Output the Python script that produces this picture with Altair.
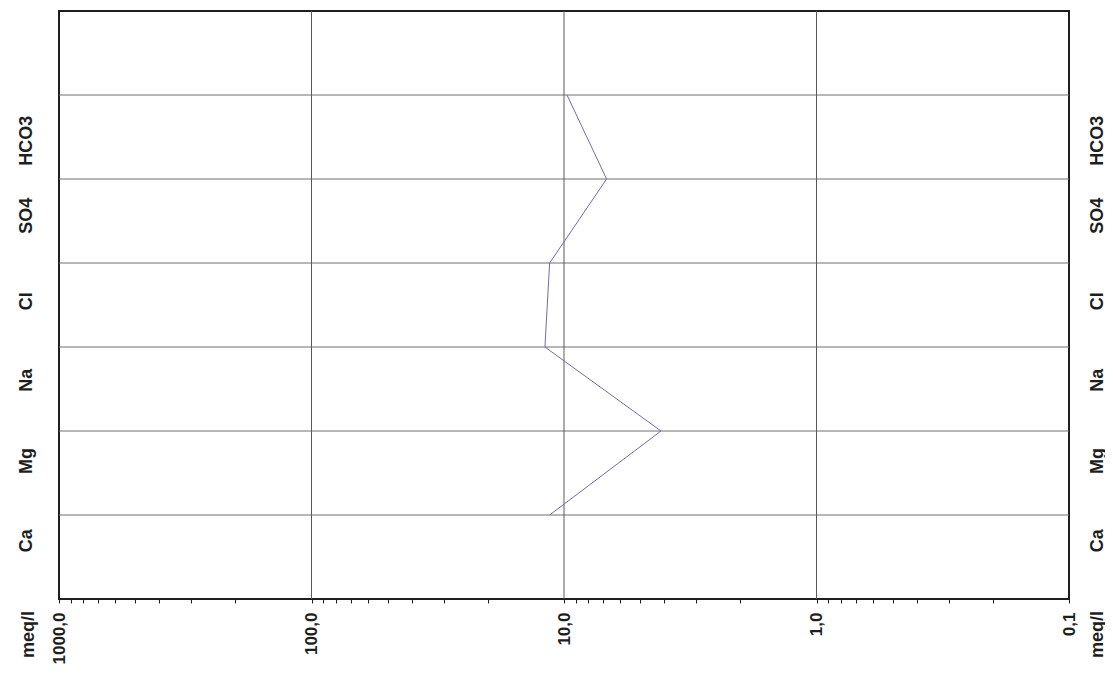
import altair as alt
import pandas as pd

# ---- data ----
ions = ["Ca", "Mg", "Na", "Cl", "SO4", "HCO3"]
meq = [11.4, 4.13, 11.9, 11.4, 6.78, 9.73]
ion_label_pos = [0.70, 1.65, 2.61, 3.55, 4.57, 5.46]
decades = [0.1, 1, 10, 100, 1000]
decade_labels = ["0,1", "1,0", "10,0", "100,0", "1000,0"]
minor_mult = [2, 3, 4, 5, 6, 7, 8, 9]

minor = [round(m * d, 4) for d in [0.1, 1, 10, 100] for m in minor_mult]
positions = list(range(1, len(ions) + 1))

line_df = pd.DataFrame({"ion": ions, "meq": meq, "pos": positions})
hgrid_df = pd.DataFrame({"pos": positions})
vgrid_df = pd.DataFrame({"x": decades[1:-1]})

FONT = "Liberation Sans"
INK = "#1e1e1e"

# label expressions
def ion_expr(pos_list, names):
    expr = "''"
    for p, n in reversed(list(zip(pos_list, names))):
        expr = f"abs(datum.value - {p}) < 0.01 ? '{n}' : ({expr})"
    return expr

def dec_expr(vals, labs):
    expr = "''"
    for v, l in zip(vals, labs):
        expr = f"abs(datum.value - {v}) < {v}*0.001 ? '{l}' : ({expr})"
    return expr

xscale = alt.Scale(type="log", domain=[0.1, 1000], reverse=True, nice=False)
yscale = alt.Scale(domain=[0, 7], nice=False, zero=False)

def yaxis(orient, pad, tx):
    return alt.Axis(
        orient=orient, values=ion_label_pos, labelExpr=ion_expr(ion_label_pos, ions),
        labelAngle=270, labelAlign="center", labelBaseline="middle",
        labelPadding=pad, ticks=False, tickSize=0, domain=False, grid=False,
        labelFont=FONT, labelFontSize=18, labelFontWeight="bold", labelColor=INK,
        labelOverlap=False,
        title="meq/l", titleX=tx, titleY=623, titleAngle=270,
        titleAlign="center", titleBaseline="middle",
        titleFont=FONT, titleFontSize=18, titleFontWeight="bold", titleColor=INK,
    )

xaxis = alt.Axis(
    orient="bottom", values=decades + minor, labelExpr=dec_expr(decades, decade_labels),
    labelAngle=270, labelAlign="right", labelBaseline="middle", labelPadding=9,
    tickSize=4, tickColor=INK, tickWidth=1, domain=False, grid=False,
    labelFont=FONT, labelFontSize=17, labelFontWeight="bold", labelColor=INK,
    labelOverlap=False, labelFlush=False, labelBound=False, title=None,
)

hgrid = alt.Chart(hgrid_df).mark_rule(color="#6e6e6e", strokeWidth=1).encode(
    y=alt.Y("pos:Q", scale=yscale, axis=yaxis("right", 28, 28)),
)

vgrid = alt.Chart(vgrid_df).mark_rule(color="#5a5a5a", strokeWidth=1).encode(
    x=alt.X("x:Q", scale=xscale, axis=None),
)

line = alt.Chart(line_df).mark_line(color="#6f6fa3", strokeWidth=1).encode(
    x=alt.X("meq:Q", scale=xscale, axis=xaxis),
    y=alt.Y("pos:Q", scale=yscale, axis=yaxis("left", 33, -31)),
    order=alt.Order("pos:Q"),
)

chart = (
    alt.layer(hgrid, vgrid, line)
    .resolve_axis(x="independent", y="independent")
    .properties(
        width=1010, height=588,
        autosize=alt.AutoSizeParams(type="none"),
        padding={"left": 51, "top": 3, "right": 36, "bottom": 67},
        background="white",
    )
    .configure_view(stroke=INK, strokeWidth=2)
)

chart.save("out.html", embed_options={"renderer": "svg", "actions": False})
